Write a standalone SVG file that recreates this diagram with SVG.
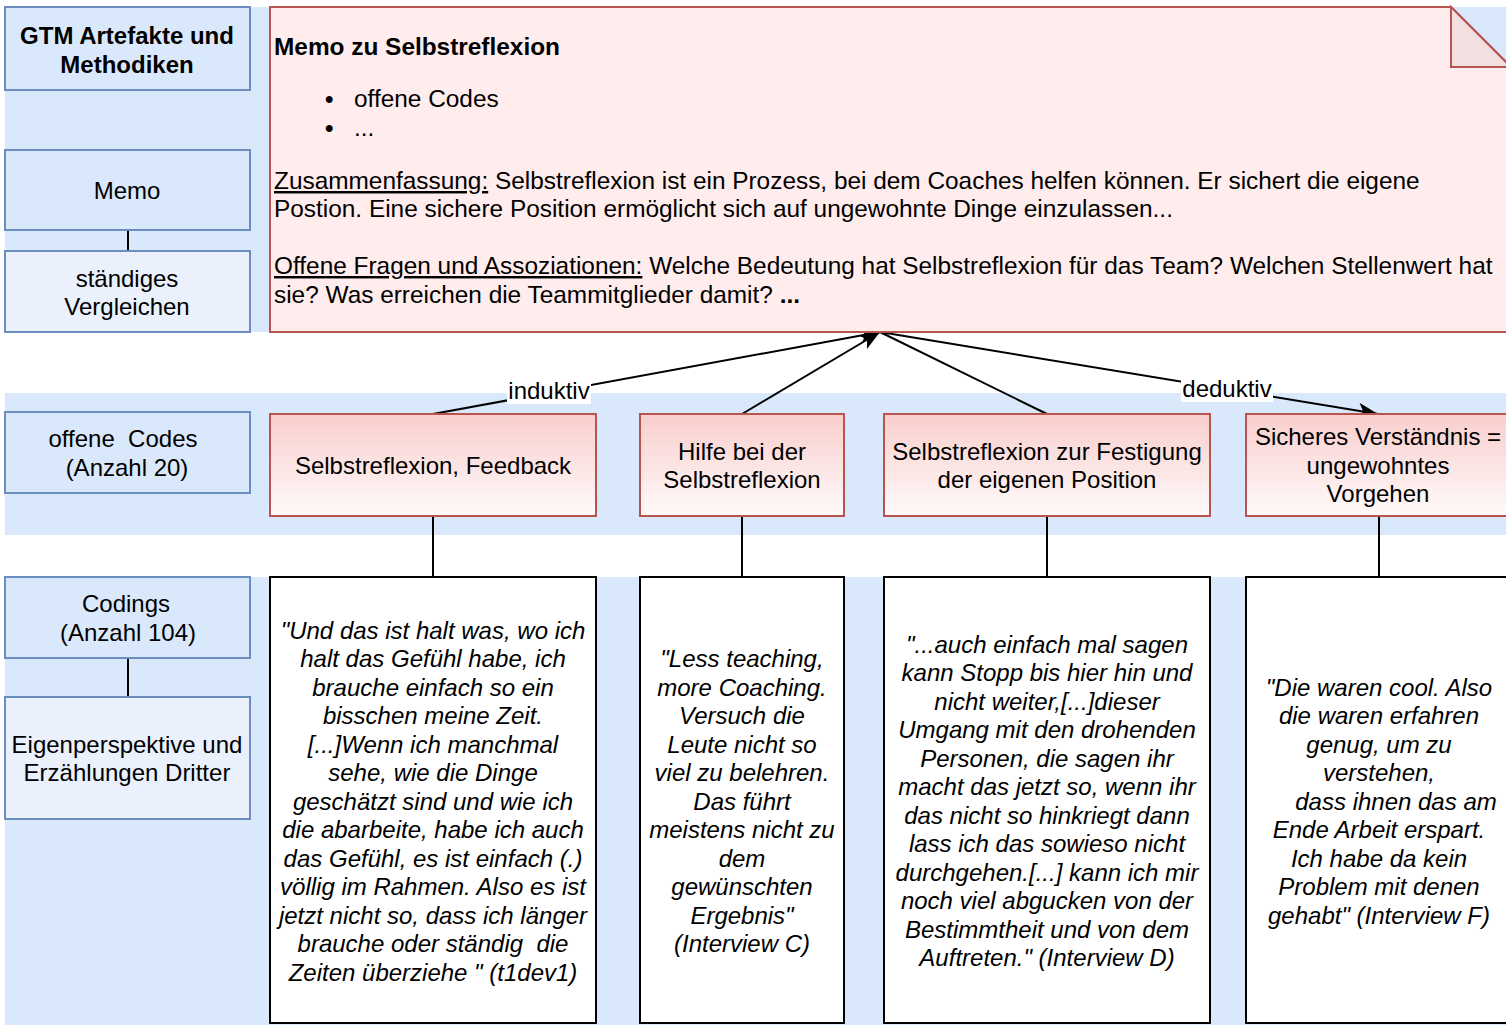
<svg xmlns="http://www.w3.org/2000/svg" width="1506" height="1025" viewBox="0 0 1506 1025">
<style>
text{font-family:"Liberation Sans",Arial,sans-serif;font-size:24px;fill:#000}
.c{text-anchor:middle}
.b{font-weight:bold}
.i{font-style:italic}
.m{font-size:24.4px}
.band{fill:#dae8fc}
.lbox{fill:#dae8fc;stroke:#6c8ebf;stroke-width:2}
.lbox2{fill:#eaf0fc;stroke:#6c8ebf;stroke-width:2}
.code{fill:url(#g);stroke:#b85450;stroke-width:2}
.quote{fill:#fff;stroke:#000;stroke-width:2}
.ln{stroke:#000;stroke-width:2;fill:none}
.lbl{fill:#fff}
</style>
<defs>
<linearGradient id="g" x1="0" y1="0" x2="0" y2="1">
<stop offset="0" stop-color="#f8cecc"/>
<stop offset="1" stop-color="#fffafa"/>
</linearGradient>
<marker id="arr" markerUnits="userSpaceOnUse" markerWidth="22" markerHeight="16" refX="20" refY="8" orient="auto" viewBox="0 0 22 16">
<path d="M0,0 L20,8 L0,16 L5,8 Z" fill="#000"/>
</marker>
</defs>
<rect width="1506" height="1025" fill="#fff"/>
<g id="bands">
<rect class="band" x="5" y="7" width="1501" height="325"/>
<rect class="band" x="5" y="393" width="1501" height="142"/>
<rect class="band" x="5" y="577" width="1501" height="448"/>
</g>
<g id="connectors">
<line class="ln" x1="128" y1="230" x2="128" y2="251"/>
<line class="ln" x1="128" y1="658" x2="128" y2="697"/>
<line class="ln" x1="433" y1="516" x2="433" y2="577"/>
<line class="ln" x1="742" y1="516" x2="742" y2="577"/>
<line class="ln" x1="1047" y1="516" x2="1047" y2="577"/>
<line class="ln" x1="1379" y1="516" x2="1379" y2="577"/>
<line class="ln" x1="1047" y1="414" x2="880" y2="332"/>
<line class="ln" x1="880" y1="332" x2="1378" y2="414" marker-end="url(#arr)"/>
<line class="ln" x1="433" y1="414" x2="880" y2="332" marker-end="url(#arr)"/>
<line class="ln" x1="742" y1="414" x2="880" y2="332" marker-end="url(#arr)"/>
<rect class="lbl" x="507" y="378" width="84" height="26"/>
<text class="c" x="549" y="399">induktiv</text>
<rect class="lbl" x="1181" y="376" width="92" height="26"/>
<text class="c" x="1227" y="397">deduktiv</text>
</g>
<g id="gtm">
<rect class="lbox" x="5" y="7" width="245" height="83"/>
<text class="c b" x="127" y="44">GTM Artefakte und</text>
<text class="c b" x="127" y="73">Methodiken</text>
</g>
<g id="memo-label">
<rect class="lbox" x="5" y="150" width="245" height="80"/>
<text class="c" x="127" y="199">Memo</text>
</g>
<g id="vergleichen">
<rect class="lbox2" x="5" y="251" width="245" height="81"/>
<text class="c" x="127" y="287">ständiges</text>
<text class="c" x="127" y="315">Vergleichen</text>
</g>
<g id="offene-codes">
<rect class="lbox" x="5" y="412" width="245" height="81"/>
<text class="c" x="123" y="447" xml:space="preserve">offene  Codes</text>
<text class="c" x="127" y="476">(Anzahl 20)</text>
</g>
<g id="codings">
<rect class="lbox" x="5" y="577" width="245" height="81"/>
<text class="c" x="126" y="612">Codings</text>
<text class="c" x="128" y="641">(Anzahl 104)</text>
</g>
<g id="eigenperspektive">
<rect class="lbox2" x="5" y="697" width="245" height="122"/>
<text class="c" x="127" y="753">Eigenperspektive und</text>
<text class="c" x="127" y="781">Erzählungen Dritter</text>
</g>
<g id="memo">
<path d="M270,7 L1451,7 L1511,67 L1511,332 L270,332 Z" fill="#ffecec" stroke="#b85450" stroke-width="2"/>
<path d="M1451,7 L1451,67 L1511,67 Z" fill="#f2e0e0" stroke="#b85450" stroke-width="2"/>
<text class="b m" x="274" y="55">Memo zu Selbstreflexion</text>
<text class="b" x="325" y="107">•</text>
<text class="m" x="354" y="107">offene Codes</text>
<text class="b" x="325" y="136">•</text>
<text class="m" x="354" y="136">...</text>
<text class="m" x="274" y="189"><tspan text-decoration="underline">Zusammenfassung:</tspan> Selbstreflexion ist ein Prozess, bei dem Coaches helfen können. Er sichert die eigene</text>
<text class="m" x="274" y="217">Postion. Eine sichere Position ermöglicht sich auf ungewohnte Dinge einzulassen...</text>
<text class="m" x="274" y="274"><tspan text-decoration="underline">Offene Fragen und Assoziationen:</tspan> Welche Bedeutung hat Selbstreflexion für das Team? Welchen Stellenwert hat</text>
<text class="m" x="274" y="303">sie? Was erreichen die Teammitglieder damit? <tspan class="b">...</tspan></text>
</g>
<g id="code1">
<rect class="code" x="270" y="414" width="326" height="102"/>
<text class="c" x="433" y="474">Selbstreflexion, Feedback</text>
</g>
<g id="code2">
<rect class="code" x="640" y="414" width="204" height="102"/>
<text class="c" x="742" y="460">Hilfe bei der</text>
<text class="c" x="742" y="488">Selbstreflexion</text>
</g>
<g id="code3">
<rect class="code" x="884" y="414" width="326" height="102"/>
<text class="c" x="1047" y="460">Selbstreflexion zur Festigung</text>
<text class="c" x="1047" y="488">der eigenen Position</text>
</g>
<g id="code4">
<rect class="code" x="1246" y="414" width="266" height="102"/>
<text class="c" x="1378" y="445">Sicheres Verständnis =</text>
<text class="c" x="1378" y="474">ungewohntes</text>
<text class="c" x="1378" y="502">Vorgehen</text>
</g>
<g id="quote1">
<rect class="quote" x="270" y="577" width="326" height="446"/>
<text class="c i" x="433" y="639">"Und das ist halt was, wo ich</text>
<text class="c i" x="433" y="667">halt das Gefühl habe, ich</text>
<text class="c i" x="433" y="696">brauche einfach so ein</text>
<text class="c i" x="433" y="724">bisschen meine Zeit.</text>
<text class="c i" x="433" y="753">[...]Wenn ich manchmal</text>
<text class="c i" x="433" y="781">sehe, wie die Dinge</text>
<text class="c i" x="433" y="810">geschätzt sind und wie ich</text>
<text class="c i" x="433" y="838">die abarbeite, habe ich auch</text>
<text class="c i" x="433" y="867">das Gefühl, es ist einfach (.)</text>
<text class="c i" x="433" y="895">völlig im Rahmen. Also es ist</text>
<text class="c i" x="433" y="924">jetzt nicht so, dass ich länger</text>
<text class="c i" x="433" y="952" xml:space="preserve">brauche oder ständig  die</text>
<text class="c i" x="433" y="981">Zeiten überziehe " (t1dev1)</text>
</g>
<g id="quote2">
<rect class="quote" x="640" y="577" width="204" height="446"/>
<text class="c i" x="742" y="667">"Less teaching,</text>
<text class="c i" x="742" y="696">more Coaching.</text>
<text class="c i" x="742" y="724">Versuch die</text>
<text class="c i" x="742" y="753">Leute nicht so</text>
<text class="c i" x="742" y="781">viel zu belehren.</text>
<text class="c i" x="742" y="810">Das führt</text>
<text class="c i" x="742" y="838">meistens nicht zu</text>
<text class="c i" x="742" y="867">dem</text>
<text class="c i" x="742" y="895">gewünschten</text>
<text class="c i" x="742" y="924">Ergebnis"</text>
<text class="c i" x="742" y="952">(Interview C)</text>
</g>
<g id="quote3">
<rect class="quote" x="884" y="577" width="326" height="446"/>
<text class="c i" x="1047" y="653">"...auch einfach mal sagen</text>
<text class="c i" x="1047" y="681">kann Stopp bis hier hin und</text>
<text class="c i" x="1047" y="710">nicht weiter,[...]dieser</text>
<text class="c i" x="1047" y="738">Umgang mit den drohenden</text>
<text class="c i" x="1047" y="767">Personen, die sagen ihr</text>
<text class="c i" x="1047" y="795">macht das jetzt so, wenn ihr</text>
<text class="c i" x="1047" y="824">das nicht so hinkriegt dann</text>
<text class="c i" x="1047" y="852">lass ich das sowieso nicht</text>
<text class="c i" x="1047" y="881">durchgehen.[...] kann ich mir</text>
<text class="c i" x="1047" y="909">noch viel abgucken von der</text>
<text class="c i" x="1047" y="938">Bestimmtheit und von dem</text>
<text class="c i" x="1047" y="966">Auftreten." (Interview D)</text>
</g>
<g id="quote4">
<rect class="quote" x="1246" y="577" width="266" height="446"/>
<text class="c i" x="1379" y="696">"Die waren cool. Also</text>
<text class="c i" x="1379" y="724">die waren erfahren</text>
<text class="c i" x="1379" y="753">genug, um zu</text>
<text class="c i" x="1379" y="781">verstehen,</text>
<text class="c i" x="1396" y="810">dass ihnen das am</text>
<text class="c i" x="1379" y="838">Ende Arbeit erspart.</text>
<text class="c i" x="1379" y="867">Ich habe da kein</text>
<text class="c i" x="1379" y="895">Problem mit denen</text>
<text class="c i" x="1379" y="924">gehabt" (Interview F)</text>
</g>
</svg>
